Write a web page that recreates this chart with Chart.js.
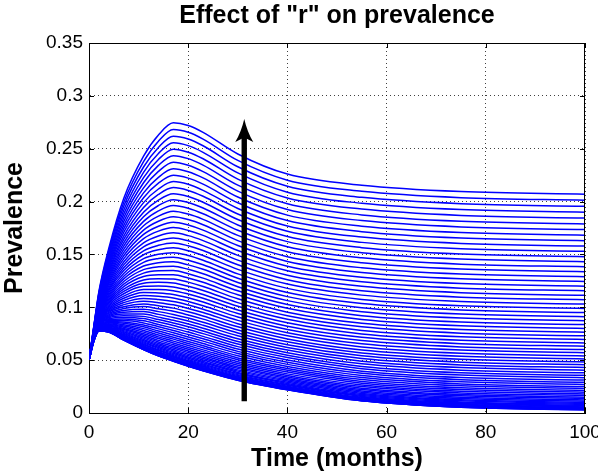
<!DOCTYPE html>
<html><head><meta charset="utf-8">
<script src="https://cdn.jsdelivr.net/npm/chart.js@4.4.1/dist/chart.umd.min.js"></script>
<style>html,body{margin:0;padding:0;background:#fff;}#wrap{width:598px;height:474px;}</style>
</head><body><div id="wrap"><canvas id="c" width="598" height="474"></canvas></div>
<script>
const chartTitle = 'Effect of "r" on prevalence';
const xAxisTitle = 'Time (months)';
const yAxisTitle = 'Prevalence';
const months = [0,1,2,4,7,11,14,17,20,23,30,40,55,75,100];
const yTickLabels = ['0','0.05','0.1','0.15','0.2','0.25','0.3','0.35'];
const arrowMonth = 31.3;
const arrowFrom = 0.011;
const arrowTo = 0.278;
// one row per value of "r" (bottom curve first), values at the months above
const prevalence = [
[0.05,0.0685,0.0775,0.0765,0.069,0.06,0.054,0.049,0.0443,0.04,0.031,0.022,0.0115,0.0055,0.003],
[0.05,0.0685,0.07751,0.07652,0.06903,0.06004,0.05404,0.04905,0.04435,0.04005,0.03104,0.02204,0.01154,0.00554,0.00304],
[0.05,0.0685,0.0775,0.0766,0.0691,0.0601,0.0542,0.0492,0.0445,0.0402,0.0312,0.0222,0.0117,0.0057,0.0032],
[0.05,0.0685,0.0776,0.0766,0.0692,0.0603,0.0544,0.0494,0.0447,0.0404,0.0314,0.0224,0.0119,0.0059,0.0034],
[0.05,0.0685,0.0776,0.0768,0.0694,0.0606,0.0547,0.0497,0.045,0.0407,0.0317,0.0227,0.0122,0.0062,0.0037],
[0.05,0.0686,0.0777,0.0769,0.0697,0.0609,0.0551,0.0502,0.0455,0.0412,0.0321,0.023,0.0125,0.0065,0.004],
[0.05,0.0686,0.0778,0.0771,0.07,0.0613,0.0555,0.0507,0.046,0.0417,0.0326,0.0235,0.013,0.007,0.0045],
[0.05,0.0686,0.0779,0.0773,0.0703,0.0618,0.0561,0.0513,0.0466,0.0423,0.0331,0.024,0.0135,0.0075,0.005],
[0.05,0.0687,0.078,0.0775,0.0708,0.0624,0.0567,0.0519,0.0473,0.0429,0.0338,0.0247,0.0142,0.0082,0.0057],
[0.05,0.0687,0.0781,0.0778,0.0712,0.063,0.0575,0.0527,0.0481,0.0437,0.0345,0.0254,0.0149,0.0089,0.0064],
[0.05,0.0688,0.0783,0.0781,0.0717,0.0637,0.0581,0.0533,0.0487,0.0445,0.0354,0.0262,0.0157,0.0097,0.0072],
[0.05,0.0689,0.0784,0.0785,0.0723,0.0645,0.059,0.0542,0.0496,0.0454,0.0363,0.027,0.0165,0.0105,0.008],
[0.05,0.0689,0.0786,0.0788,0.0729,0.0654,0.0598,0.0552,0.0507,0.0464,0.0373,0.028,0.0175,0.0115,0.009],
[0.05,0.069,0.0788,0.0792,0.0736,0.0663,0.0609,0.0563,0.0518,0.0476,0.0384,0.029,0.0185,0.0125,0.01],
[0.05,0.0691,0.079,0.0797,0.0744,0.0673,0.062,0.0574,0.053,0.0487,0.0396,0.0302,0.0197,0.0137,0.0112],
[0.05,0.0692,0.0792,0.0802,0.0752,0.0684,0.0632,0.0587,0.0543,0.0501,0.0408,0.0314,0.0209,0.0149,0.0124],
[0.05,0.0693,0.0795,0.0807,0.076,0.0696,0.0644,0.06,0.0556,0.0515,0.0422,0.0327,0.0222,0.0162,0.0137],
[0.05,0.0694,0.0797,0.0812,0.0769,0.0708,0.0658,0.0614,0.0571,0.0529,0.0436,0.034,0.0235,0.0175,0.015],
[0.05,0.0695,0.08,0.0818,0.0779,0.0721,0.0672,0.0629,0.0587,0.0545,0.0452,0.0355,0.025,0.019,0.0165],
[0.05,0.0696,0.0803,0.0824,0.0789,0.0735,0.0687,0.0645,0.0603,0.0561,0.0468,0.037,0.0265,0.0205,0.018],
[0.05,0.0697,0.0806,0.083,0.0799,0.0749,0.0704,0.0662,0.062,0.0579,0.0485,0.0387,0.0282,0.0222,0.0197],
[0.05,0.0698,0.0809,0.0837,0.0811,0.0765,0.072,0.068,0.0638,0.0597,0.0503,0.0404,0.0299,0.0239,0.0214],
[0.05,0.0699,0.0812,0.0844,0.0822,0.0781,0.0737,0.0699,0.0657,0.0617,0.0521,0.0422,0.0317,0.0257,0.0232],
[0.05,0.0701,0.0815,0.0851,0.0835,0.0798,0.0756,0.0717,0.0677,0.0636,0.0541,0.044,0.0335,0.0275,0.025],
[0.05,0.0702,0.0819,0.0858,0.0848,0.0815,0.0775,0.0738,0.0698,0.0657,0.0562,0.046,0.0355,0.0295,0.027],
[0.05,0.0703,0.0823,0.0866,0.0861,0.0833,0.0796,0.0759,0.0719,0.068,0.0583,0.048,0.0375,0.0315,0.029],
[0.05,0.0705,0.0827,0.0875,0.0875,0.0852,0.0816,0.0781,0.0742,0.0702,0.0605,0.0501,0.0396,0.0336,0.0311],
[0.05,0.0707,0.0831,0.0883,0.0889,0.0872,0.0838,0.0803,0.0766,0.0725,0.0628,0.0524,0.0419,0.0359,0.0334],
[0.05,0.0708,0.0835,0.0892,0.0904,0.0893,0.086,0.0828,0.079,0.0751,0.0652,0.0546,0.0441,0.0381,0.0356],
[0.05,0.071,0.0839,0.0901,0.092,0.0914,0.0884,0.0852,0.0816,0.0776,0.0677,0.057,0.0465,0.0405,0.038],
[0.05,0.0712,0.0844,0.0911,0.0936,0.0936,0.0907,0.0877,0.0841,0.0802,0.0703,0.0595,0.049,0.043,0.0405],
[0.05,0.0713,0.0849,0.0921,0.0953,0.0959,0.0933,0.0904,0.087,0.083,0.073,0.062,0.0515,0.0455,0.043],
[0.05,0.0715,0.0853,0.0931,0.097,0.0982,0.0959,0.0932,0.0898,0.0858,0.0757,0.0646,0.0541,0.0481,0.0456],
[0.05,0.0717,0.0858,0.0942,0.0988,0.1007,0.0986,0.0962,0.0927,0.0888,0.0786,0.0673,0.0568,0.0508,0.0483],
[0.05,0.0719,0.0863,0.0953,0.1006,0.1032,0.1014,0.0992,0.0958,0.0918,0.0815,0.0701,0.0596,0.0536,0.0511],
[0.05,0.0721,0.0869,0.0964,0.1025,0.1058,0.1044,0.1023,0.0989,0.095,0.0845,0.073,0.0625,0.0565,0.054],
[0.05,0.0723,0.0874,0.0975,0.1044,0.1084,0.1073,0.1054,0.1022,0.0982,0.0876,0.076,0.0655,0.0595,0.057],
[0.05,0.0726,0.088,0.0987,0.1064,0.1111,0.1104,0.1088,0.1055,0.1015,0.0908,0.079,0.0685,0.0625,0.06],
[0.05,0.0728,0.0886,0.0999,0.1085,0.1139,0.1136,0.1122,0.109,0.105,0.0941,0.0821,0.0716,0.0656,0.0631],
[0.05,0.073,0.0891,0.1012,0.1106,0.1168,0.1168,0.1157,0.1125,0.1085,0.0974,0.0853,0.0748,0.0688,0.0663],
[0.05,0.0732,0.0897,0.1025,0.1128,0.1198,0.1201,0.1192,0.1162,0.1121,0.1009,0.0886,0.0781,0.0721,0.0696],
[0.05,0.0735,0.0904,0.1038,0.115,0.1228,0.1236,0.123,0.1199,0.1159,0.1044,0.092,0.0815,0.0755,0.073],
[0.05,0.0737,0.091,0.1051,0.1172,0.1259,0.1271,0.1268,0.1238,0.1197,0.108,0.0954,0.0849,0.0789,0.0764],
[0.05,0.074,0.0917,0.1065,0.1196,0.1291,0.1308,0.1307,0.1277,0.1236,0.1118,0.099,0.0885,0.0825,0.08],
[0.05,0.0742,0.0923,0.1079,0.1219,0.1323,0.1345,0.1347,0.1318,0.1276,0.1156,0.1026,0.0921,0.0861,0.0836],
[0.05,0.0745,0.093,0.1094,0.1244,0.1356,0.1383,0.1388,0.1359,0.1317,0.1194,0.1063,0.0958,0.0898,0.0873],
[0.05,0.0748,0.0937,0.1108,0.1269,0.139,0.1422,0.143,0.1401,0.1359,0.1234,0.1101,0.0996,0.0936,0.0911],
[0.05,0.075,0.0944,0.1123,0.1294,0.1425,0.1461,0.1473,0.1445,0.1402,0.1275,0.114,0.1035,0.0975,0.095],
[0.05,0.0753,0.0951,0.1139,0.132,0.146,0.1502,0.1517,0.149,0.1445,0.1316,0.1179,0.1074,0.1014,0.0989],
[0.05,0.0756,0.0959,0.1155,0.1347,0.1497,0.1544,0.1563,0.1535,0.149,0.1359,0.122,0.1115,0.1055,0.103],
[0.05,0.0759,0.0966,0.1171,0.1374,0.1534,0.1586,0.1609,0.1582,0.1537,0.1402,0.1261,0.1156,0.1096,0.1071],
[0.05,0.0762,0.0974,0.1187,0.1401,0.1571,0.163,0.1656,0.1629,0.1583,0.1446,0.1303,0.1198,0.1138,0.1113],
[0.05,0.0765,0.0982,0.1204,0.1429,0.161,0.1675,0.1704,0.1678,0.1631,0.1491,0.1346,0.1241,0.1181,0.1156],
[0.05,0.0768,0.099,0.1221,0.1458,0.1649,0.172,0.1754,0.1727,0.168,0.1537,0.1389,0.1284,0.1224,0.1199],
[0.05,0.0771,0.0998,0.1238,0.1487,0.1689,0.1767,0.1805,0.1778,0.173,0.1584,0.1434,0.1329,0.1269,0.1244],
[0.05,0.0775,0.1007,0.1256,0.1517,0.173,0.1814,0.1856,0.183,0.1781,0.1631,0.1479,0.1374,0.1314,0.1289],
[0.05,0.0778,0.1015,0.1274,0.1548,0.1771,0.1863,0.1909,0.1882,0.1832,0.168,0.1526,0.1421,0.1361,0.1336],
[0.05,0.0781,0.1024,0.1292,0.1579,0.1813,0.1912,0.1963,0.1937,0.1885,0.1729,0.1573,0.1468,0.1408,0.1383],
[0.05,0.0785,0.1032,0.1311,0.161,0.1856,0.1963,0.2018,0.1991,0.1939,0.1779,0.1621,0.1516,0.1456,0.1431],
[0.05,0.0788,0.1041,0.133,0.1642,0.19,0.2014,0.2074,0.2048,0.1994,0.183,0.1669,0.1564,0.1504,0.1479],
[0.05,0.0792,0.1051,0.1349,0.1674,0.1944,0.2067,0.2132,0.2105,0.205,0.1882,0.1719,0.1614,0.1554,0.1529],
[0.05,0.0795,0.106,0.1369,0.1708,0.199,0.2119,0.2189,0.2163,0.2106,0.1935,0.1769,0.1664,0.1604,0.1579],
[0.05,0.0799,0.1069,0.1389,0.1741,0.2036,0.2174,0.2249,0.2222,0.2165,0.1989,0.182,0.1715,0.1655,0.163],
[0.05,0.0802,0.1079,0.1409,0.1775,0.2082,0.2229,0.231,0.2282,0.2224,0.2043,0.1872,0.1767,0.1707,0.1682],
[0.05,0.0806,0.1088,0.143,0.181,0.213,0.2285,0.2372,0.2343,0.2283,0.2099,0.1925,0.182,0.176,0.1735],
[0.05,0.081,0.1098,0.145,0.1845,0.2178,0.2342,0.2434,0.2406,0.2344,0.2155,0.1979,0.1874,0.1814,0.1789],
[0.05,0.0814,0.1108,0.1472,0.1881,0.2227,0.2398,0.2495,0.2467,0.2405,0.2212,0.2034,0.1929,0.1869,0.1844],
[0.05,0.0818,0.1119,0.1493,0.1918,0.2277,0.2455,0.2556,0.2529,0.2466,0.2271,0.2089,0.1984,0.1924,0.1899],
[0.05,0.0822,0.1129,0.1515,0.1955,0.2327,0.2512,0.2618,0.2592,0.2528,0.2329,0.2145,0.204,0.198,0.1955],
[0.05,0.0826,0.1139,0.1537,0.1992,0.2378,0.2571,0.2681,0.2655,0.2591,0.2389,0.2202,0.2097,0.2037,0.2012],
[0.05,0.083,0.115,0.156,0.203,0.243,0.263,0.2745,0.272,0.2655,0.245,0.226,0.2155,0.2095,0.207]
];

const FONT = "'Liberation Sans', Arial, Helvetica, sans-serif";
Chart.defaults.font.family = FONT;
Chart.defaults.color = '#000';

const datasets = prevalence.map(vals => ({
  data: vals.map((v, i) => ({x: months[i], y: v})),
  borderColor: '#0000ff',
  borderWidth: 1.5,
  pointRadius: 0,
  fill: false,
  cubicInterpolationMode: 'monotone'
}));

const decorPlugin = {
  id: 'decor',
  afterDatasetsDraw(chart) {
    const {ctx, scales: {x, y}} = chart;
    const ax = x.getPixelForValue(arrowMonth);
    const ay0 = y.getPixelForValue(arrowFrom);
    const ay1 = y.getPixelForValue(arrowTo);
    ctx.save();
    ctx.strokeStyle = '#000';
    ctx.fillStyle = '#000';
    ctx.lineWidth = 5.4;
    ctx.lineCap = 'butt';
    ctx.beginPath(); ctx.moveTo(ax, ay0); ctx.lineTo(ax, ay1 + 16); ctx.stroke();
    ctx.beginPath();
    ctx.moveTo(ax, ay1);
    ctx.quadraticCurveTo(ax + 3, ay1 + 13, ax + 9, ay1 + 23);
    ctx.lineTo(ax, ay1 + 18.5);
    ctx.lineTo(ax - 9, ay1 + 23);
    ctx.quadraticCurveTo(ax - 3, ay1 + 13, ax, ay1);
    ctx.closePath();
    ctx.fill();
    ctx.restore();
  },
  afterDraw(chart) {
    const {ctx, chartArea: a, scales: {x, y}} = chart;
    ctx.save();
    ctx.strokeStyle = '#000';
    ctx.lineWidth = 1;
    ctx.beginPath();
    ctx.moveTo(a.left, a.top + 0.5); ctx.lineTo(a.right, a.top + 0.5);
    ctx.moveTo(a.right - 0.5, a.top); ctx.lineTo(a.right - 0.5, a.bottom);
    x.ticks.forEach(t => {
      const px = Math.round(x.getPixelForValue(t.value)) + 0.5;
      ctx.moveTo(px, a.bottom); ctx.lineTo(px, a.bottom - 5);
      ctx.moveTo(px, a.top); ctx.lineTo(px, a.top + 5);
    });
    y.ticks.forEach(t => {
      const py = Math.round(y.getPixelForValue(t.value)) + 0.5;
      ctx.moveTo(a.left, py); ctx.lineTo(a.left + 5, py);
      ctx.moveTo(a.right, py); ctx.lineTo(a.right - 5, py);
    });
    ctx.stroke();
    ctx.restore();
  }
};

new Chart(document.getElementById('c'), {
  type: 'line',
  data: {datasets},
  options: {
    responsive: false,
    animation: false,
    events: [],
    layout: {padding: {left: 0, right: 13, top: 0, bottom: 0}},
    plugins: {
      legend: {display: false},
      tooltip: {enabled: false},
      title: {
        display: true, text: chartTitle, fullSize: false, color: '#000',
        font: {family: FONT, size: 25, weight: 'bold'},
        padding: {top: 1.5, bottom: 11.5}
      }
    },
    scales: {
      x: {
        type: 'linear', min: 0, max: 100,
        ticks: {stepSize: 20, font: {family: FONT, size: 19}, color: '#000', padding: 8, maxRotation: 0},
        grid: {color: 'rgba(0,0,0,0.75)', drawTicks: false},
        border: {display: true, color: '#000', width: 1, dash: [1, 3]},
        title: {display: true, text: xAxisTitle, font: {family: FONT, size: 25, weight: 'bold'}, color: '#000', padding: {top: 0, bottom: 0}},
        afterFit(s) { s.height = 61; s.paddingLeft = 0; s.paddingRight = 0; }
      },
      y: {
        type: 'linear', min: 0, max: 0.35,
        ticks: {stepSize: 0.05, font: {family: FONT, size: 19}, color: '#000', padding: 6,
          callback: (v, i) => yTickLabels[i]},
        grid: {color: 'rgba(0,0,0,0.75)', drawTicks: false},
        border: {display: true, color: '#000', width: 1, dash: [1, 3]},
        title: {display: true, text: yAxisTitle, font: {family: FONT, size: 25, weight: 'bold'}, color: '#000', padding: {top: 0, bottom: 0}},
        afterFit(s) { s.width = 89; }
      }
    }
  },
  plugins: [decorPlugin]
});
</script>
</body></html>
